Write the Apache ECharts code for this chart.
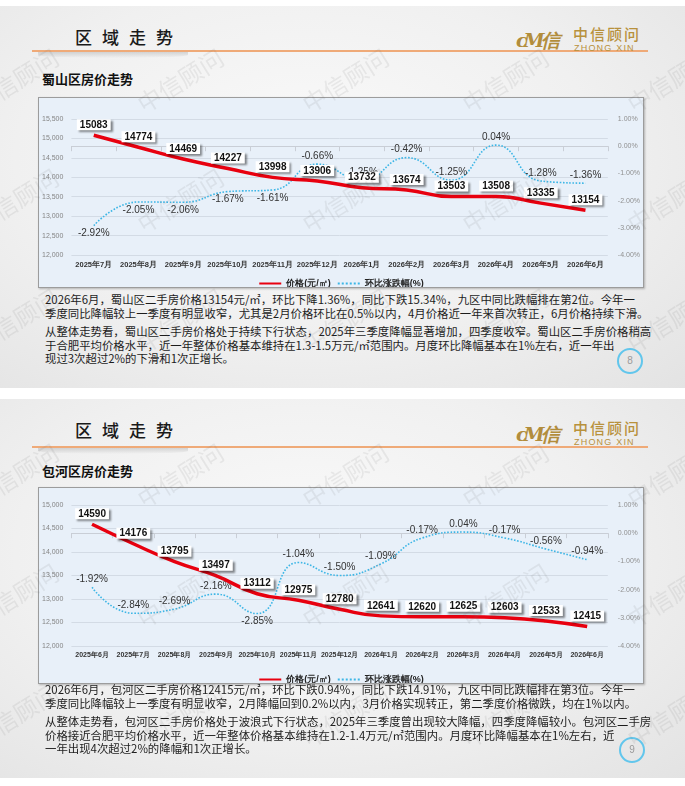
<!DOCTYPE html>
<html>
<head>
<meta charset="utf-8">
<script src="https://cdn.jsdelivr.net/npm/echarts@6/dist/echarts.min.js"></script>
<style>
body{margin:0;width:685px;height:786px;background:#fff;position:relative;overflow:hidden;font-family:"Noto Sans CJK SC","Noto Sans",sans-serif;}
.slide{position:absolute;left:0;width:685px;background:radial-gradient(ellipse at 45% 40%,#fafafa 0%,#f0f0f0 55%,#e3e3e3 100%);overflow:hidden;}
.hd{position:absolute;left:75px;top:22px;font-size:17px;line-height:17px;letter-spacing:10px;color:#1a1a1a;font-weight:500;}
.rule{position:absolute;left:32px;width:616px;height:1.5px;background:#efaa78;}
.shade{position:absolute;left:38px;width:150px;height:6px;background:linear-gradient(to bottom,rgba(0,0,0,0.13),rgba(0,0,0,0));border-radius:0 0 60% 60%;}
.logo{position:absolute;left:516px;width:135px;height:30px;}
.logo .ic{position:absolute;left:0;top:2px;font:italic bold 19px "DejaVu Serif",serif;color:#b28d3c;letter-spacing:-4px;}
.logo .cn{position:absolute;left:57px;top:0;font-size:15px;line-height:16px;letter-spacing:2px;color:#b8913c;font-weight:500;}
.logo .en{position:absolute;left:58px;top:17px;font-size:9px;line-height:10px;letter-spacing:1.2px;color:#b8913c;font-family:"Liberation Sans",sans-serif;}
.sub{position:absolute;left:42px;font-size:13px;line-height:13px;font-weight:bold;color:#111;}
.box{position:absolute;left:38px;width:606px;background:#e8f0f9;border:1px solid #9c9c9c;box-shadow:1px 1px 2px rgba(0,0,0,0.25);box-sizing:border-box;}
.chart{position:absolute;left:0;top:0;width:100%;height:100%;}
.txt{position:absolute;left:45px;font-size:11.4px;line-height:13.5px;color:#1c1c1c;white-space:nowrap;}
.txt p{margin:0 0 5px 0;}
.pg{position:absolute;width:22px;height:22px;border:2px solid #62c6ec;border-radius:50%;color:#9a9a9a;font-size:10px;line-height:22px;text-align:center;font-family:"Liberation Sans",sans-serif;}
.wm{position:absolute;font-size:24px;line-height:24px;color:rgba(110,110,110,0.11);transform:rotate(-32deg);pointer-events:none;white-space:nowrap;z-index:5;}
</style>
</head>
<body>

<div class="slide" id="s1" style="top:6px;height:382px;">
  <div class="hd">区域走势</div>
  <div class="rule" style="top:44px;"></div>
  <div class="shade" style="top:46px;"></div>
  <div class="logo" style="top:20px;"><div class="ic">cM信</div><div class="cn">中信顾问</div><div class="en">ZHONG XIN</div></div>
  <div class="sub" style="top:66px;">蜀山区房价走势</div>
  <div class="box" style="top:91px;height:191px;"><div class="chart" id="c1"></div></div>
  <div class="txt" style="top:287px;">
    <p>2026年6月，蜀山区二手房价格13154元/㎡，环比下降1.36%，同比下跌15.34%，九区中同比跌幅排在第2位。今年一<br>季度同比降幅较上一季度有明显收窄，尤其是2月价格环比在0.5%以内，4月价格近一年来首次转正，6月价格持续下滑。</p>
    <p>从整体走势看，蜀山区二手房价格处于持续下行状态，2025年三季度降幅显著增加，四季度收窄。蜀山区二手房价格稍高<br>于合肥平均价格水平，近一年整体价格基本维持在1.3-1.5万元/㎡范围内。月度环比降幅基本在1%左右，近一年出<br>现过3次超过2%的下滑和1次正增长。</p>
  </div>
  <div class="pg" style="left:617px;top:342px;">8</div>
</div>

<div class="slide" id="s2" style="top:399px;height:379px;">
  <div class="hd">区域走势</div>
  <div class="rule" style="top:47px;"></div>
  <div class="shade" style="top:49px;"></div>
  <div class="logo" style="top:21px;"><div class="ic">cM信</div><div class="cn">中信顾问</div><div class="en">ZHONG XIN</div></div>
  <div class="sub" style="top:65px;">包河区房价走势</div>
  <div class="box" style="top:88px;height:197px;"><div class="chart" id="c2"></div></div>
  <div class="txt" style="top:284px;">
    <p>2026年6月，包河区二手房价格12415元/㎡，环比下跌0.94%，同比下跌14.91%，九区中同比跌幅排在第3位。今年一<br>季度同比降幅较上一季度有明显收窄，2月降幅回到0.2%以内，3月价格实现转正，第二季度价格微跌，均在1%以内。</p>
    <p>从整体走势看，包河区二手房价格处于波浪式下行状态，2025年三季度曾出现较大降幅，四季度降幅较小。包河区二手房<br>价格接近合肥平均价格水平，近一年整体价格基本维持在1.2-1.4万元/㎡范围内。月度环比降幅基本在1%左右，近<br>一年出现4次超过2%的降幅和1次正增长。</p>
  </div>
  <div class="pg" style="left:619px;top:338px;">9</div>
</div>

<script>
// 蜀山区
const shushanMonths = ['2025年7月','2025年8月','2025年9月','2025年10月','2025年11月','2025年12月','2026年1月','2026年2月','2026年3月','2026年4月','2026年5月','2026年6月'];
const shushanPrice = [15083,14774,14469,14227,13998,13906,13732,13674,13503,13508,13335,13154];
const shushanChange = [-2.92,-2.05,-2.06,-1.67,-1.61,-0.66,-1.25,-0.42,-1.25,0.04,-1.28,-1.36];
const shushanPriceTicks = [12000,15500,500];

// 包河区
const baoheMonths = ['2025年6月','2025年7月','2025年8月','2025年9月','2025年10月','2025年11月','2025年12月','2026年1月','2026年2月','2026年3月','2026年4月','2026年5月','2026年6月'];
const baohePrice = [14590,14176,13795,13497,13112,12975,12780,12641,12620,12625,12603,12533,12415];
const baoheChange = [-1.92,-2.84,-2.69,-2.16,-2.85,-1.04,-1.50,-1.09,-0.17,0.04,-0.17,-0.56,-0.94];
const baohePriceTicks = [12000,15000,500];

const changeTicks = [-4,1,1];

function drawChart(id, months, price, change, priceTicks, below, grid, legendTop, xFont) {
  let myChart = echarts.init(document.getElementById(id));
  myChart.setOption({
    animation: false,
    grid: { left: grid[0], right: grid[1], top: grid[2], bottom: grid[3] },
    legend: {
      top: legendTop, left: 'center', itemWidth: 22, itemHeight: 8, itemGap: 6,
      itemStyle: { opacity: 0 },
      textStyle: { fontSize: 9, fontWeight: 'bold', color: '#222' },
      data: ['价格(元/㎡)', '环比涨跌幅(%)']
    },
    xAxis: {
      type: 'category', data: months,
      axisLine: { lineStyle: { color: '#c9ced6' } },
      axisTick: { show: true, length: 5, lineStyle: { color: '#c9ced6' } },
      axisLabel: { interval: 0, fontSize: xFont, fontWeight: 'bold', color: '#333', margin: 6 }
    },
    yAxis: [{
      type: 'value', min: priceTicks[0], max: priceTicks[1], interval: priceTicks[2],
      axisLine: { show: false }, axisTick: { show: false },
      axisLabel: { fontSize: 7, color: '#858585', margin: 8 },
      splitLine: { lineStyle: { color: '#d3dbe5' } }
    }, {
      type: 'value', min: changeTicks[0], max: changeTicks[1], interval: changeTicks[2], position: 'right',
      axisLine: { show: false }, axisTick: { show: false },
      axisLabel: { fontSize: 7, color: '#909090', margin: 10, formatter: v => v.toFixed(2) + '%' },
      splitLine: { show: false }
    }],
    series: [{
      name: '价格(元/㎡)', type: 'line', smooth: true, symbol: 'circle', symbolSize: 0, z: 4,
      data: price,
      lineStyle: { color: '#e8000f', width: 3.5 },
      itemStyle: { color: '#e8000f' },
      label: {
        show: true, position: 'top', distance: 5,
        fontSize: 10, fontWeight: 'bold', color: '#111',
        backgroundColor: '#fff', padding: [1, 3, 0, 3],
        shadowColor: 'rgba(0,0,0,0.45)', shadowBlur: 2, shadowOffsetX: 2, shadowOffsetY: 2
      }
    }, {
      name: '环比涨跌幅(%)', type: 'line', yAxisIndex: 1, smooth: true, symbol: 'circle', symbolSize: 0, z: 3,
      data: change.map((v, i) => ({ value: v, label: { position: below.indexOf(i) >= 0 ? 'bottom' : 'top' } })),
      lineStyle: { color: '#3db6e6', width: 1.6, type: 'dotted' },
      itemStyle: { color: '#3db6e6' },
      label: { show: true, distance: 3, fontSize: 10, color: '#333', formatter: p => p.value.toFixed(2) + '%' }
    }]
  });
}

drawChart('c1', shushanMonths, shushanPrice, shushanChange, shushanPriceTicks, [0,1,2,3,4], [31, 35, 21, 32], 176, 7.5);
drawChart('c2', baoheMonths, baohePrice, baoheChange, baohePriceTicks, [4], [29, 30, 17, 37], 182, 7);

// 水印
const wmX = [15, 180, 345, 505, 670];
const wmY = [80, 200, 320];
[0, 395].forEach(off => {
  wmY.forEach(y => {
    wmX.forEach(x => {
      let d = document.createElement('div');
      d.className = 'wm';
      d.textContent = '中信顾问';
      d.style.left = (x - 48) + 'px';
      d.style.top = (y + off - 12) + 'px';
      document.body.appendChild(d);
    });
  });
});
</script>
</body>
</html>
